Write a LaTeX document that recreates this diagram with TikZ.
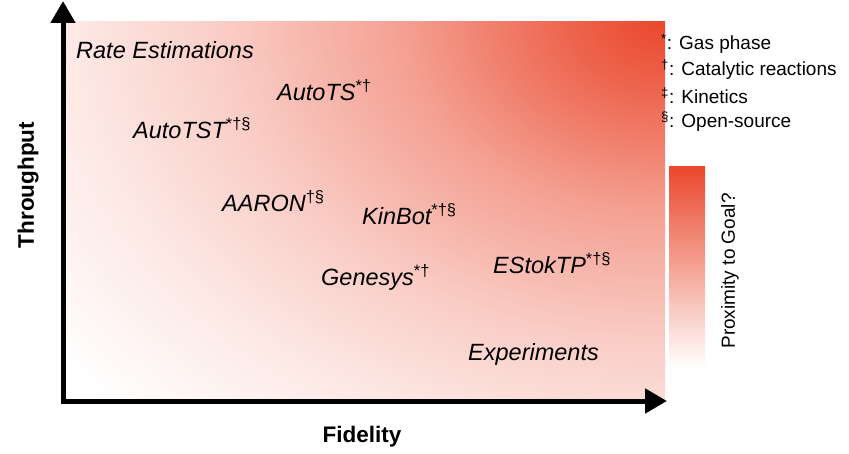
\documentclass[tikz,border=0pt]{standalone}
\usepackage{fontspec}
\setmainfont{Liberation Sans}
\usepackage{xcolor}
\usetikzlibrary{positioning,arrows.meta}
\definecolor{goalred}{RGB}{234,72,45}
\pgfdeclareradialshading{proximity}{\pgfpoint{0bp}{0bp}}{color(0bp)=(goalred); color(3bp)=(goalred!85!white); color(8.5bp)=(goalred!52!white); color(14.5bp)=(goalred!27!white); color(19.5bp)=(goalred!12!white); color(25bp)=(white); color(50bp)=(white)}
\newcommand{\tags}[1]{\textsuperscript{\upshape#1}}

\begin{document}
\begin{tikzpicture}[x=1pt,y=-1pt,
    tool/.style={anchor=west,inner sep=0pt,font=\itshape\fontsize{23.5}{28}\selectfont},
    axislabel/.style={inner sep=0pt,font=\bfseries\fontsize{22.5}{27}\selectfont},
    legend/.style={anchor=west,inner sep=0pt,font=\fontsize{19}{23}\selectfont},
    axis/.style={line width=5pt,-{Triangle[length=22pt,width=24pt]}}]
            \useasboundingbox (0,0) rectangle (849,454);
            \begin{scope}
                \clip (66,22) rectangle (665,401);
                \shade[shading=proximity] (662,20) ellipse [x radius=760, y radius=560];
            \end{scope}
            \coordinate (origin) at (63,401);
            \coordinate (ytip) at (63,1);
            \coordinate (xtip) at (667,401);
            \draw[axis] ([yshift=-2.5pt]origin) -- (ytip);
            \draw[axis] ([xshift=-2.5pt]origin) -- (xtip);
            \node[axislabel] (fidelity) at (362,437) {Fidelity};
            \node[axislabel,rotate=90] (throughput) at (28,185) {Throughput};
            \node[tool] (rate) at (76,50) {Rate Estimations};
            \node[tool] (autots) at (277,90) {AutoTS\tags{*\dag}};
            \node[tool] (autotst) at (133,128) {AutoTST\tags{*\dag\S}};
            \node[tool] (aaron) at (222,201) {AARON\tags{\dag\S}};
            \node[tool] (kinbot) at (362,214) {KinBot\tags{*\dag\S}};
            \node[tool] (genesys) at (321,277) {Genesys\tags{*\dag}};
            \node[tool] (estoktp) at (493,263) {EStokTP\tags{*\dag\S}};
            \node[tool] (experiments) at (468,354) {Experiments};
            \node[legend] (gas) at (661,44) {\tags{*}: Gas phase};
            \node[legend] (catalytic) at (661,70) {\tags{\dag}: Catalytic reactions};
            \node[legend] (kinetics) at (661,96) {\tags{\ddag}: Kinetics};
            \node[legend] (open) at (661,122) {\tags{\S}: Open-source};
            \shade[top color=goalred,bottom color=white] (669,167) rectangle (705,368);
            \node[legend,anchor=center,rotate=90] (proximity) at (730,271) {Proximity to Goal?};
        \end{tikzpicture}
\end{document}
